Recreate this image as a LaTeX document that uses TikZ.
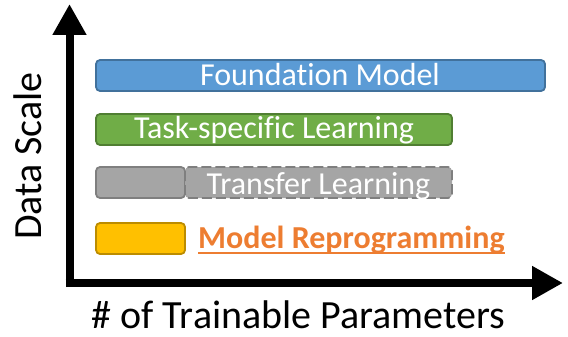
\documentclass[tikz,border=0pt]{standalone}
\usepackage{fontspec}
\setmainfont{Carlito}[Ligatures=NoCommon]
\usetikzlibrary{arrows.meta}
\definecolor{bluefill}{HTML}{5B9BD5}
\definecolor{blueline}{HTML}{41719C}
\definecolor{greenfill}{HTML}{70AD47}
\definecolor{greenline}{HTML}{507E32}
\definecolor{grayfill}{HTML}{A5A5A5}
\definecolor{grayline}{HTML}{7F7F7F}
\definecolor{yellowfill}{HTML}{FFC000}
\definecolor{yellowline}{HTML}{BC8C00}
\definecolor{orangetext}{HTML}{ED7D31}
\tikzset{
  bar/.style={rounded corners=4pt, line width=1.8pt},
  bartext/.style={text=white, font=\fontsize{32}{34}\selectfont, inner sep=0pt, anchor=base},
  axislabel/.style={text=black, font=\fontsize{40}{42}\selectfont, inner sep=0pt, anchor=base},
  axis/.style={line width=8pt, -{Triangle[length=31pt, width=32pt]}}
}
\begin{document}
\begin{tikzpicture}[x=1pt, y=-1pt]
\useasboundingbox (0,0) rectangle (568,337);
% axes
\coordinate (origin) at (69.5,283);
\coordinate (ytip) at (69.5,4);
\coordinate (xtip) at (563,283);
\draw[axis] (69.5,287) -- (ytip);
\draw[axis] (65.5,283) -- (xtip);
% bars
\draw[bar, draw=blueline, fill=bluefill] (96,60) rectangle (545,91);
\node[bartext] (fm) at (320,86) {Foundation Model};
\draw[bar, draw=greenline, fill=greenfill] (96,114) rectangle (452,145);
\node[bartext] (tsl) at (274,139) {Task-specific Learning};
\draw[bar, draw=grayline, fill=grayfill] (96,167) rectangle (185,198);
\draw[bar, draw=grayline, fill=grayfill, dash pattern=on 10pt off 4pt] (185,167) rectangle (452,198);
\node[bartext] (tl) at (318.5,194) {Transfer Learning};
\draw[bar, draw=yellowline, fill=yellowfill] (96,223) rectangle (185,254);
\node[text=orangetext, font=\fontsize{32}{34}\selectfont\bfseries, inner sep=0pt, anchor=base west] (mr) at (198,248) {Model Reprogramming};
\draw[orangetext, line width=1.6pt] (mr.base west) ++(0,5) coordinate (ul1) -- (ul1 -| mr.base east);
% labels
\node[axislabel] (xl) at (298.5,328) {\# of Trainable Parameters};
\node[axislabel, rotate=90] (yl) at (41,156) {Data Scale};
\end{tikzpicture}
\end{document}
